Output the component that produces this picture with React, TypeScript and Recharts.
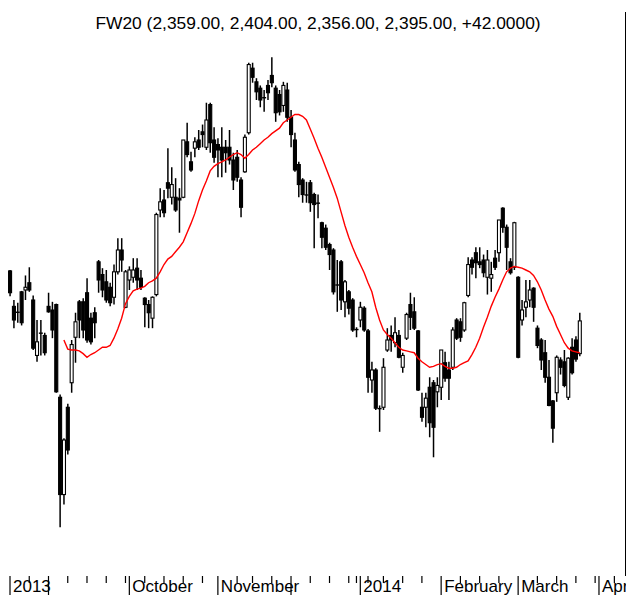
import React from 'react';
import { ComposedChart, Bar, Line, XAxis, YAxis } from 'recharts';

// ---- Data (FW20 daily candles, Aug 2013 – Mar 2014) ----
const HOLIDAYS = ['2013-11-01', '2013-11-11', '2013-12-24', '2013-12-25', '2013-12-26', '2013-12-31', '2014-01-01', '2014-01-06'];
const N_CATEGORIES = 160;

const opens = [
  2450, 2411, 2405, 2427, 2429, 2437, 2418, 2357, 2382, 2379,
  2411, 2407, 2413, 2311, 2204, 2300, 2327, 2377, 2416, 2416,
  2426, 2398, 2404, 2460, 2446, 2438, 2432, 2421, 2449, 2473,
  2410, 2440, 2443, 2453, 2442, 2420, 2413, 2398, 2424, 2517,
  2528, 2547, 2531, 2531, 2530, 2531, 2592, 2570, 2585, 2594,
  2603, 2586, 2633, 2594, 2589, 2586, 2586, 2586, 2572, 2575,
  2550, 2559, 2602, 2673, 2658, 2651, 2641, 2654, 2665, 2651,
  2644, 2632, 2649, 2619, 2594, 2567, 2550, 2534, 2547, 2534,
  2525, 2503, 2497, 2479, 2473, 2435, 2460, 2416, 2427, 2418,
  2386, 2396, 2409, 2384, 2330, 2341, 2299, 2300, 2363, 2379,
  2371, 2379, 2344, 2376, 2413, 2405, 2384, 2300, 2300, 2322,
  2327, 2317, 2322, 2349, 2341, 2344, 2396, 2394, 2385, 2423,
  2462, 2470, 2460, 2462, 2443, 2442, 2464, 2470, 2519, 2498,
  2460, 2454, 2443, 2396, 2410, 2418, 2431, 2387, 2374, 2360,
  2333, 2307, 2316, 2352, 2350, 2311, 2366, 2374, 2359,
];
const highs = [
  2451, 2418, 2415, 2428, 2445, 2454, 2423, 2396, 2396, 2382,
  2426, 2416, 2414, 2314, 2266, 2304, 2374, 2404, 2418, 2420,
  2442, 2404, 2410, 2462, 2453, 2451, 2437, 2457, 2486, 2486,
  2451, 2455, 2464, 2464, 2451, 2421, 2418, 2422, 2514, 2541,
  2539, 2585, 2564, 2552, 2541, 2594, 2613, 2581, 2597, 2605,
  2611, 2635, 2635, 2608, 2596, 2608, 2594, 2605, 2580, 2583,
  2553, 2600, 2679, 2679, 2662, 2654, 2649, 2660, 2685, 2654,
  2649, 2658, 2657, 2627, 2602, 2570, 2552, 2548, 2550, 2536,
  2534, 2504, 2501, 2481, 2475, 2462, 2462, 2440, 2429, 2420,
  2388, 2416, 2411, 2386, 2350, 2343, 2302, 2354, 2387, 2390,
  2399, 2385, 2360, 2404, 2426, 2421, 2385, 2316, 2316, 2333,
  2330, 2333, 2363, 2361, 2350, 2388, 2398, 2398, 2416, 2465,
  2465, 2476, 2476, 2468, 2473, 2460, 2473, 2506, 2520, 2501,
  2464, 2504, 2444, 2418, 2440, 2440, 2432, 2390, 2376, 2374,
  2352, 2308, 2357, 2355, 2363, 2355, 2376, 2378, 2404,
];
const lows = [
  2422, 2387, 2393, 2390, 2418, 2427, 2363, 2350, 2357, 2357,
  2404, 2376, 2316, 2168, 2193, 2248, 2316, 2349, 2376, 2376,
  2371, 2369, 2376, 2426, 2421, 2415, 2411, 2413, 2446, 2449,
  2409, 2429, 2437, 2429, 2429, 2388, 2387, 2387, 2422, 2509,
  2509, 2530, 2523, 2515, 2492, 2530, 2575, 2559, 2575, 2583,
  2586, 2583, 2580, 2569, 2553, 2553, 2558, 2567, 2539, 2548,
  2509, 2558, 2600, 2657, 2638, 2630, 2625, 2638, 2652, 2614,
  2621, 2625, 2614, 2586, 2559, 2531, 2525, 2525, 2515, 2475,
  2508, 2475, 2473, 2451, 2424, 2405, 2407, 2399, 2402, 2383,
  2377, 2388, 2383, 2316, 2316, 2297, 2273, 2297, 2361, 2361,
  2366, 2354, 2338, 2374, 2385, 2385, 2318, 2284, 2278, 2267,
  2245, 2300, 2308, 2328, 2308, 2341, 2374, 2372, 2383, 2421,
  2446, 2442, 2453, 2443, 2424, 2427, 2451, 2460, 2492, 2451,
  2446, 2451, 2354, 2390, 2399, 2410, 2394, 2365, 2341, 2327,
  2301, 2261, 2306, 2336, 2322, 2308, 2336, 2350, 2356,
];
const closes = [
  2426, 2396, 2404, 2393, 2432, 2429, 2365, 2372, 2381, 2360,
  2405, 2385, 2317, 2204, 2264, 2253, 2369, 2394, 2396, 2385,
  2374, 2372, 2393, 2440, 2429, 2418, 2415, 2449, 2473, 2462,
  2449, 2451, 2451, 2440, 2432, 2413, 2404, 2421, 2512, 2526,
  2514, 2541, 2545, 2517, 2528, 2594, 2578, 2561, 2592, 2586,
  2600, 2616, 2591, 2575, 2583, 2572, 2580, 2572, 2550, 2553,
  2520, 2597, 2677, 2663, 2647, 2638, 2640, 2646, 2657, 2624,
  2625, 2654, 2619, 2600, 2561, 2545, 2534, 2533, 2525, 2523,
  2524, 2487, 2476, 2468, 2427, 2434, 2418, 2438, 2409, 2385,
  2385, 2410, 2385, 2333, 2341, 2299, 2298, 2344, 2374, 2374,
  2382, 2355, 2357, 2402, 2399, 2387, 2319, 2289, 2310, 2283,
  2278, 2324, 2363, 2332, 2332, 2385, 2376, 2377, 2415, 2457,
  2454, 2459, 2457, 2448, 2462, 2446, 2454, 2506, 2498, 2476,
  2448, 2503, 2355, 2407, 2416, 2429, 2410, 2368, 2352, 2333,
  2302, 2277, 2355, 2344, 2324, 2354, 2338, 2353, 2395,
];
// moving average (red line), first 14 sessions have no value
const maValues: (number | null)[] = [
  null, null, null, null, null, null, null, null, null, null, null, null, null, null,
  2374, 2364, 2363, 2363, 2362, 2359, 2355, 2358, 2360, 2363,
  2366, 2366, 2368, 2376, 2386, 2398, 2414, 2422, 2428, 2430,
  2431, 2433, 2437, 2439, 2442, 2449, 2457, 2463, 2466, 2471,
  2476, 2482, 2492, 2502, 2513, 2527, 2539, 2549, 2560, 2565,
  2568, 2570, 2572, 2575, 2578, 2580, 2578, 2574, 2578, 2583,
  2586, 2590, 2594, 2597, 2601, 2604, 2607, 2613, 2616, 2619,
  2622, 2622, 2620, 2616, 2606, 2596, 2585, 2575, 2564, 2553,
  2542, 2530, 2515, 2500, 2487, 2476, 2466, 2457, 2448, 2437,
  2427, 2410, 2396, 2385, 2380, 2376, 2371, 2366, 2363, 2362,
  2361, 2360, 2354, 2350, 2347, 2344, 2345, 2347, 2348, 2345,
  2343, 2343, 2344, 2347, 2349, 2351, 2358, 2366, 2376, 2388,
  2399, 2411, 2421, 2430, 2440, 2449, 2453, 2455, 2454, 2453,
  2451, 2449, 2445, 2438, 2429, 2418, 2408, 2400, 2389, 2380,
  2371, 2365, 2362, 2361, 2360,
];
const tickLabels: [string, string][] = [
  ['2013-08-19', '2013'],
  ['2013-10-01', 'October'],
  ['2013-11-04', 'November'],
  ['2014-01-02', '2014'],
  ['2014-02-03', 'February'],
  ['2014-03-03', 'March'],
  ['2014-04-01', 'April'],
];
const TITLE = 'FW20 (2,359.00, 2,404.00, 2,356.00, 2,395.00, +42.0000)';

// ---- trading calendar ----
function buildDates(): string[] {
  const out: string[] = [];
  let t = Date.UTC(2013, 7, 19);
  while (out.length < N_CATEGORIES) {
    const d = new Date(t);
    const dow = d.getUTCDay();
    const s = d.toISOString().slice(0, 10);
    if (dow !== 0 && dow !== 6 && !HOLIDAYS.includes(s)) out.push(s);
    t += 86400000;
  }
  return out;
}
const dates = buildDates();

const majorSet = new Set<string>();
const tickDates: string[] = [];
dates.forEach((d, i) => {
  const prev = i > 0 ? dates[i - 1] : null;
  const monthStart = !prev || prev.slice(0, 7) !== d.slice(0, 7);
  const wk = (s: string) => Math.floor((Date.parse(s) / 86400000 + 3) / 7);
  const weekStart = !prev || wk(prev) !== wk(d);
  if (monthStart) majorSet.add(d);
  if (monthStart || weekStart) tickDates.push(d);
});
const labelMap: Record<string, string> = Object.fromEntries(tickLabels);

const data = dates.map((d, i) => ({
  date: d,
  range: i < opens.length ? [lows[i], highs[i]] : undefined,
  open: opens[i],
  high: highs[i],
  low: lows[i],
  close: closes[i],
  ma: i < maValues.length ? maValues[i] : null,
}));

const FONT = '"Liberation Sans", Arial, Helvetica, sans-serif';

const Candle = (props: any) => {
  const { x, y, width, height, payload } = props;
  if (!payload || payload.open == null || x == null) return null;
  const top = Math.min(y, y + height);
  const bottom = Math.max(y, y + height);
  const { open, close, high, low } = payload;
  const span = high - low || 1;
  const py = (v: number) => top + ((high - v) / span) * (bottom - top);
  const cx = x + width / 2;
  const yo = py(open);
  const yc = py(close);
  const bTop = Math.min(yo, yc);
  const bBot = Math.max(yo, yc);
  const up = close > open;
  return (
    <g>
      <line x1={cx} x2={cx} y1={top} y2={bottom} stroke="#000" strokeWidth={1.5} />
      {bBot - bTop < 1.2 ? (
        <line x1={cx - 2} x2={cx + 2} y1={(bTop + bBot) / 2} y2={(bTop + bBot) / 2} stroke="#000" strokeWidth={1.4} />
      ) : (
        <rect x={cx - 1.5} y={bTop} width={3} height={bBot - bTop} fill={up ? '#fff' : '#000'} stroke="#000" strokeWidth={1.1} />
      )}
    </g>
  );
};

const AxisTick = (props: any) => {
  const { x, y, payload } = props;
  const v = payload.value as string;
  const major = majorSet.has(v);
  const label = labelMap[v];
  return (
    <g>
      <line x1={x} x2={x} y1={y} y2={y + (major ? 19 : 7)} stroke="#000" strokeWidth={1.2} />
      {label ? (
        <text x={x + 3} y={y + 16} fontSize={17} fontFamily={FONT} fill="#000">
          {label}
        </text>
      ) : null}
    </g>
  );
};

export default function App() {
  return (
    <div style={{ position: 'fixed', left: 0, top: 0, width: 626, height: 596, overflow: 'hidden', background: '#fff' }}>
      <div
        style={{
          position: 'absolute',
          left: 0,
          top: 13,
          width: 636,
          textAlign: 'center',
          fontFamily: FONT,
          fontSize: 17.4,
          lineHeight: '20px',
          color: '#000',
        }}
      >
        {TITLE}
      </div>
      <div style={{ position: 'absolute', left: 625, top: 12, width: 1, height: 564, background: '#000' }} />
      <div style={{ position: 'absolute', left: 0, top: 0 }}>
        <ComposedChart
          width={634}
          height={596}
          data={data}
          margin={{ top: 40, right: 10, left: 8.075, bottom: 0 }}
          barCategoryGap={0}
        >
          <XAxis
            dataKey="date"
            type="category"
            ticks={tickDates}
            interval={0}
            tickLine={false}
            axisLine={false}
            tickSize={0}
            tickMargin={0}
            height={20}
            tick={<AxisTick />}
          />
          <YAxis hide type="number" domain={[2114.4, 2704]} allowDataOverflow />
          <Bar dataKey="range" shape={<Candle />} isAnimationActive={false} />
          <Line
            dataKey="ma"
            type="linear"
            stroke="#ff0000"
            strokeWidth={1.4}
            dot={false}
            activeDot={false}
            connectNulls={false}
            isAnimationActive={false}
          />
        </ComposedChart>
      </div>
    </div>
  );
}
